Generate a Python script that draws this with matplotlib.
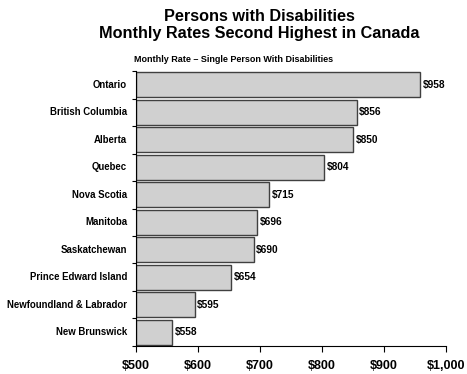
import matplotlib.pyplot as plt
import numpy as np

provinces = ['Ontario', 'British Columbia', 'Alberta', 'Quebec', 'Nova Scotia',
             'Manitoba', 'Saskatchewan', 'Prince Edward Island',
             'Newfoundland & Labrador', 'New Brunswick']
rates = [958, 856, 850, 804, 715, 696, 690, 654, 595, 558]
xticks = [500, 600, 700, 800, 900, 1000]
xtick_labels = ['$500', '$600', '$700', '$800', '$900', '$1,000']

plt.rcParams['font.family'] = ['Liberation Sans', 'DejaVu Sans']

fig = plt.figure(figsize=(4.67, 3.74), dpi=100)
ax = fig.add_axes([0.291, 0.075, 0.664, 0.735])

y = np.arange(len(provinces))
ax.barh(y, [r - 500 for r in rates], left=500, height=0.9,
        color='#d0d0d0', edgecolor='#404040', linewidth=1.0)

for yi, r in zip(y, rates):
    ax.text(r + 4, yi, '$' + str(r), va='center', ha='left',
            fontsize=7.3, fontweight='bold')

ax.set_xlim(500, 1000)
ax.set_ylim(len(provinces) - 0.5, -0.5)
ax.set_xticks(xticks)
ax.set_xticklabels(xtick_labels, fontsize=9, fontweight='bold')

# category labels, separator ticks on the y axis
ax.set_yticks(np.arange(-0.5, len(provinces), 1))
ax.set_yticklabels([])
ax.tick_params(axis='y', length=3, width=0.8, color='black')
ax.tick_params(axis='x', length=4, width=0.8, pad=6)
for yi, name in zip(y, provinces):
    ax.text(-0.028, yi, name, transform=ax.get_yaxis_transform(),
            ha='right', va='center', fontsize=6.9, fontweight='bold')

ax.spines['top'].set_visible(False)
ax.spines['right'].set_visible(False)

fig.text(0.555, 0.975, 'Persons with Disabilities\nMonthly Rates Second Highest in Canada',
         ha='center', va='top', fontsize=11.7, fontweight='bold', linespacing=1.15)
fig.text(0.287, 0.828, 'Monthly Rate \u2013 Single Person With Disabilities',
         ha='left', va='bottom', fontsize=6.5, fontweight='bold')

fig.savefig('out.png', dpi=100)
